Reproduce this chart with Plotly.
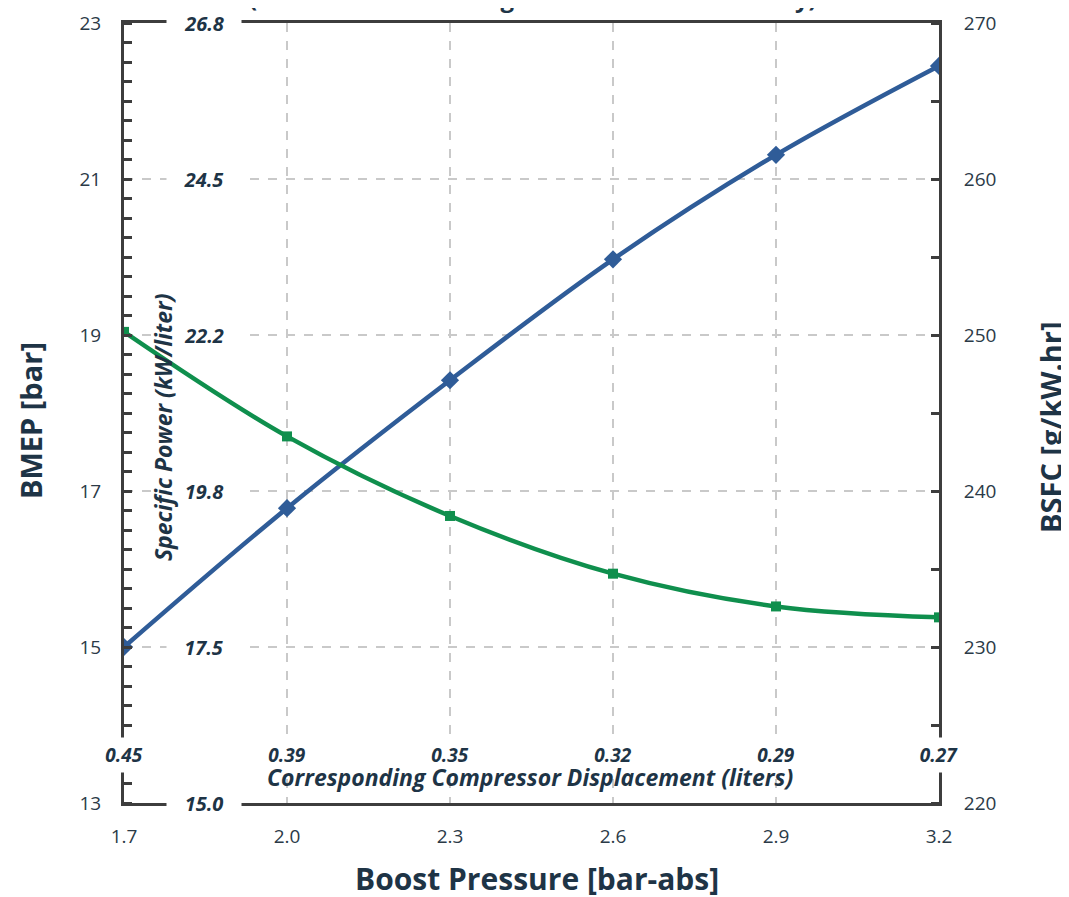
import plotly.graph_objects as go

# ---- data ----
boost_pressure = [1.7, 2.0, 2.3, 2.6, 2.9, 3.2]
bmep = [15.0, 16.78, 18.42, 19.97, 21.31, 22.45]
bsfc = [250.2, 243.5, 238.4, 234.7, 232.6, 231.9]
compressor_disp = ["0.45", "0.39", "0.35", "0.32", "0.29", "0.27"]
bmep_ticks = [13, 15, 17, 19, 21, 23]
specific_power_labels = ["15.0", "17.5", "19.8", "22.2", "24.5", "26.8"]
bsfc_ticks = [220, 230, 240, 250, 260, 270]

FONT = "Open Sans"
TXT = "#1e3446"
AXC = "#3d3d3d"
GRID = "#c9c9c9"
BLUE = "#2f5c98"
GREEN = "#0f8f4d"

fig = go.Figure()
fig.add_trace(go.Scatter(
    x=boost_pressure, y=bmep, mode="lines+markers", line=dict(color=BLUE, width=4.5, shape="spline"),
    marker=dict(symbol="diamond", size=14, color=BLUE), name="BMEP", yaxis="y"))
fig.add_trace(go.Scatter(
    x=boost_pressure, y=bsfc, mode="lines+markers", line=dict(color=GREEN, width=4.5, shape="spline"),
    marker=dict(symbol="square", size=10, color=GREEN), name="BSFC", yaxis="y2"))

fig.update_layout(
    width=1069, height=897,
    margin=dict(l=116, r=138, t=15, b=102),
    plot_bgcolor="white", paper_bgcolor="white",
    showlegend=False,
    font=dict(family=FONT, color=TXT, size=19),
    xaxis=dict(range=[1.7, 3.2], tickvals=boost_pressure, ticktext=[f"{v:.1f}" for v in boost_pressure],
               showline=True, linecolor=AXC, linewidth=3, mirror=True, automargin=False,
               showgrid=True, gridcolor=GRID, griddash="dash", gridwidth=1.5,
               ticks="", ticklabelstandoff=14, zeroline=False,
               tickfont=dict(size=19, color="#2b3a47")),
    yaxis=dict(range=[13, 23], tickvals=bmep_ticks, showline=True, linecolor=AXC, linewidth=3,
               showgrid=True, gridcolor=GRID, griddash="dash", gridwidth=1.5, zeroline=False,
               automargin=False,
               ticks="", ticklabelstandoff=16, tickfont=dict(size=19, color="#2b3a47"),
               minor=dict(dtick=0.25, ticks="inside", ticklen=8, tickwidth=3, tickcolor=AXC, showgrid=False)),
    yaxis2=dict(range=[220, 270], tickvals=bsfc_ticks, overlaying="y", side="right",
                showline=True, linecolor=AXC, linewidth=3, showgrid=False, zeroline=False,
                automargin=False,
                ticks="", ticklabelstandoff=18, tickfont=dict(size=19, color="#2b3a47"),
                minor=dict(dtick=5, ticks="inside", ticklen=8, tickwidth=3, tickcolor=AXC, showgrid=False)),
)

ann = []
# specific power labels (inner axis) with white background breaking lines
for v, t in zip(bmep_ticks, specific_power_labels):
    ann.append(dict(x=0.098, xref="paper", y=v, yref="y", text=f"<b><i>{t}</i></b>", showarrow=False,
                    bgcolor="white", width=74, height=22, font=dict(size=20, color=TXT),
                    xanchor="center", yanchor="middle", borderpad=0))
# compressor displacement labels
for xv, t in zip(boost_pressure, compressor_disp):
    ann.append(dict(x=xv, xref="x", y=0.0615, yref="paper", text=f"<b><i>{t}</i></b>", showarrow=False,
                    bgcolor="white", width=50, height=34, font=dict(size=19, color=TXT),
                    xanchor="center", yanchor="middle", borderpad=0))

ann += [
    dict(x=0.502, y=1.0085, xref="paper", yref="paper", yanchor="bottom", xanchor="center", showarrow=False,
         text="<b>(Constant Knock Margin – 75% Turbo Efficiency)</b>", font=dict(size=24, color=TXT)),
    dict(x=-0.1153, y=0.4897, xref="paper", yref="paper", textangle=-90, showarrow=False,
         xanchor="center", yanchor="middle",
         text="<b>BMEP [bar]</b>", font=dict(size=29, color=TXT)),
    dict(x=1.136, y=0.482, xref="paper", yref="paper", textangle=-90, showarrow=False,
         xanchor="center", yanchor="middle",
         text="<b>BSFC [g/kW.hr]</b>", font=dict(size=29, color=TXT)),
    dict(x=0.0479, y=0.482, xref="paper", yref="paper", textangle=-90, showarrow=False,
         xanchor="center", yanchor="middle",
         text="<b><i>Specific Power (kW/liter)</i></b>", font=dict(size=23, color=TXT)),
    dict(x=0.498, y=0.0333, xref="paper", yref="paper", showarrow=False,
         xanchor="center", yanchor="middle",
         text="<b><i>Corresponding Compressor Displacement (liters)</i></b>", font=dict(size=23, color=TXT)),
    dict(x=0.507, y=-0.0962, xref="paper", yref="paper", showarrow=False,
         xanchor="center", yanchor="middle",
         text="<b>Boost Pressure [bar-abs]</b>", font=dict(size=30, color=TXT)),
]
fig.update_layout(annotations=ann)

fig.write_html("out.html")
